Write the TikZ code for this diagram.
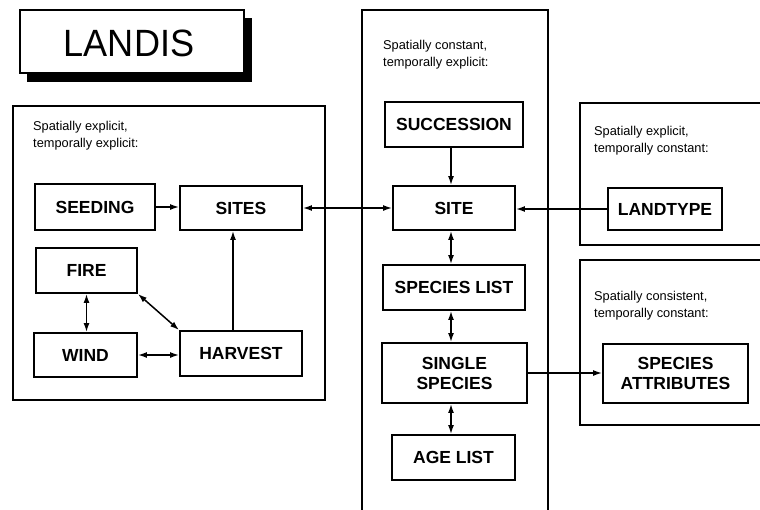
\documentclass[tikz,border=0pt]{standalone}
\usepackage{fontspec}
\setmainfont{Liberation Sans}
\usetikzlibrary{arrows.meta,calc}
\tikzset{
  box/.style={draw, line width=1.9pt, align=center, inner sep=0pt, font=\fontsize{17.5}{20}\selectfont\bfseries},
  frame/.style={draw, line width=1.8pt},
  note/.style={anchor=north west, inner sep=0pt, align=left, font=\fontsize{12.8}{17}\selectfont},
  conn/.style={line width=1.5pt},
  tip/.tip={Latex[length=9pt,width=6pt]},
  one/.style={conn, -tip},
  two/.style={conn, tip-tip}
}
\begin{document}
\begin{tikzpicture}[x=1pt,y=-1pt]
\path[use as bounding box] (0,0) rectangle (760,509);
\clip (0,0) rectangle (760,509);
% title
\fill (27,18) rectangle (252,82);
\draw[line width=1.9pt, fill=white] (20,10) rectangle (244,73);
\node[inner sep=0pt, font=\fontsize{38}{42}\selectfont] (title) at (129,43) {\scalebox{0.95}[1]{LANDIS}};
% frames
\draw[frame] (13,106) rectangle (325,400);
\draw[frame] (362,10) rectangle (548,530);
\draw[frame] (580,103) rectangle (780,245);
\draw[frame] (580,260) rectangle (780,425);
% notes
\node[note] (n1) at (33,121) {Spatially explicit,\\temporally explicit:};
\node[note] (n2) at (383,40) {Spatially constant,\\temporally explicit:};
\node[note] (n3) at (594,126) {Spatially explicit,\\temporally constant:};
\node[note] (n4) at (594,291) {Spatially consistent,\\temporally constant:};
% boxes
\node[box, minimum width=120pt, minimum height=46pt] (seeding) at (95,207) {SEEDING};
\node[box, minimum width=122pt, minimum height=44pt] (sites) at (241,208) {SITES};
\node[box, minimum width=101pt, minimum height=45pt] (fire) at (86.5,270.5) {FIRE};
\node[box, minimum width=103pt, minimum height=44pt] (wind) at (85.5,355) {WIND};
\node[box, minimum width=122pt, minimum height=45pt] (harvest) at (241,353.5) {HARVEST};
\node[box, minimum width=138pt, minimum height=45pt] (succession) at (454,124.5) {SUCCESSION};
\node[box, minimum width=122pt, minimum height=44pt] (site) at (454,208) {SITE};
\node[box, minimum width=142pt, minimum height=45pt] (specieslist) at (454,287.5) {SPECIES LIST};
\node[box, minimum width=145pt, minimum height=60pt] (single) at (454.5,373) {SINGLE\\SPECIES};
\node[box, minimum width=123pt, minimum height=45pt] (agelist) at (453.5,457.5) {AGE LIST};
\node[box, minimum width=114pt, minimum height=42pt] (landtype) at (665,209) {LANDTYPE};
\node[box, minimum width=145pt, minimum height=59pt] (attr) at (675.5,373.5) {SPECIES\\ATTRIBUTES};
% connectors
\draw[one] (seeding.east) -- (seeding.east -| sites.west);
\draw[one] ([xshift=-8pt]harvest.north) -- ([xshift=-8pt]harvest.north |- sites.south);
\draw[two] (fire.south) -- (fire.south |- wind.north);
\draw[two] (fire.south east) -- (harvest.north west);
\draw[two] (wind.east) -- (wind.east -| harvest.west);
\draw[two] (sites.east) -- (sites.east -| site.west);
\draw[one] ([xshift=-3pt]succession.south) -- ([xshift=-3pt]site.north);
\draw[one] (landtype.west) -- (landtype.west -| site.east);
\draw[two] ([xshift=-3pt]site.south) -- ([xshift=-3pt]specieslist.north);
\draw[two] ([xshift=-3pt]specieslist.south) -- ([xshift=-3.5pt]single.north);
\draw[two] ([xshift=-3.5pt]single.south) -- ([xshift=-2.5pt]agelist.north);
\draw[one] (single.east) -- (single.east -| attr.west);
\end{tikzpicture}
\end{document}
